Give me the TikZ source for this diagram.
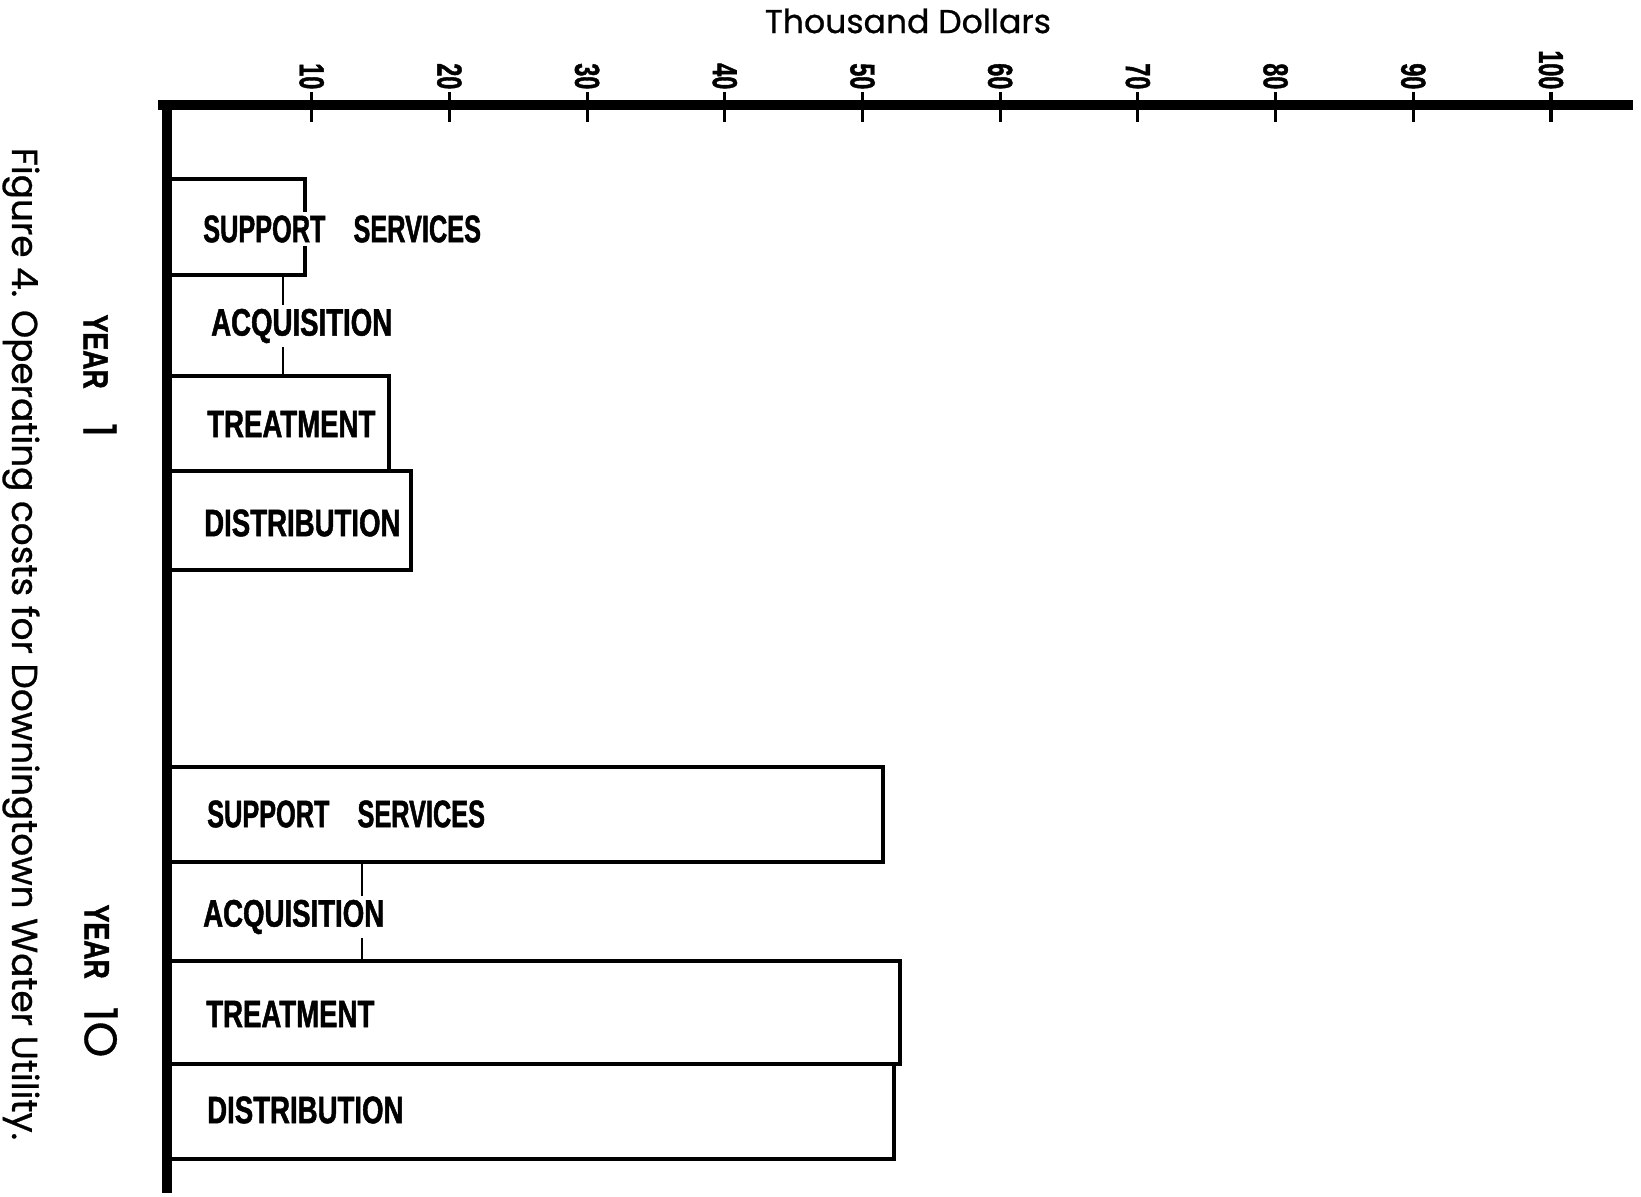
\documentclass[tikz,border=0pt]{standalone}
\usepackage{fontspec}
% condensed heavy faces for the bar labels, ticks and year labels
\newfontfamily\condfont[FakeStretch=0.72,FakeBold=1.2]{Liberation Sans}
\newfontfamily\ssfont[FakeStretch=0.66,FakeBold=1.2]{Liberation Sans}
\newfontfamily\tickfont[FakeStretch=0.67,FakeBold=1.2]{Liberation Sans}
\newfontfamily\yearfont[FakeStretch=0.76,FakeBold=1.2]{Liberation Sans}
\newfontfamily\geofont[FakeBold=0.8]{Poppins}
\begin{document}
\begin{tikzpicture}[x=0.01cm,y=-0.01cm,
  axisline/.style={line width=3.1pt,line cap=rect},
  barline/.style={line width=1.4pt},
  thinbar/.style={line width=0.6pt},
  tickline/.style={line width=0.9pt},
  barlabel/.style={font=\condfont\bfseries\fontsize{10.9}{13}\selectfont,
    fill=white,inner sep=1pt,anchor=west},
  sslabel/.style={font=\ssfont\bfseries\fontsize{10.9}{13}\selectfont,
    fill=white,inner sep=1pt,anchor=west},
  ticklabel/.style={font=\tickfont\bfseries\fontsize{9.9}{12}\selectfont,
    rotate=-90,anchor=east,inner sep=0pt},
  yearlabel/.style={rotate=-90,inner sep=0pt},
]
\useasboundingbox (0,0) rectangle (1641,1197);

% axes
\draw[line width=2.8pt] (167,105) -- (167,1193);
\draw[axisline] (163,105) -- (1628,105);

% ticks and their values
\foreach \v/\name in {10/t10,20/t20,30/t30,40/t40,50/t50,60/t60,70/t70,80/t80,90/t90,100/t100}{
  \pgfmathsetmacro{\tx}{174+13.77*\v}
  \draw[tickline] (\tx,92) -- (\tx,122);
  \node[ticklabel] (\name) at (\tx,90) {\v};
}
\node[font=\geofont\fontsize{9.4}{11}\selectfont] (unit) at (908,21) {Thousand Dollars};

% year 1 bars
\draw[barline] (167,179) rectangle (305,275);
\draw[thinbar] (283,275) -- (283,376);
\draw[barline] (167,376) rectangle (389,471);
\draw[barline] (167,471) rectangle (411,570);

% year 10 bars
\draw[barline] (167,767) rectangle (883,862);
\draw[thinbar] (362,862) -- (362,961);
\draw[barline] (167,961) rectangle (900,1064);
\draw[barline] (167,1064) rectangle (894,1159);

% bar labels
\node[sslabel]  (ss1)  at (199,229) {SUPPORT\hspace{0.28cm}SERVICES};
\node[barlabel] (acq1) at (207,326) {ACQUISITION};
\node[barlabel] (tr1)  at (203,424) {TREATMENT};
\node[barlabel] (di1)  at (200,523) {DISTRIBUTION};

\node[sslabel]  (ss10)  at (203,814) {SUPPORT\hspace{0.28cm}SERVICES};
\node[barlabel] (acq10) at (199,917) {ACQUISITION};
\node[barlabel] (tr10)  at (202,1014) {TREATMENT};
\node[barlabel] (di10)  at (203,1110) {DISTRIBUTION};

% year labels
\node[yearlabel] (y1) at (100,376)
  {{\yearfont\bfseries\fontsize{10}{12}\selectfont YEAR}\hspace{0.34cm}{\geofont\fontsize{13}{15}\selectfont 1}};
\node[yearlabel] (y10) at (101,981)
  {{\yearfont\bfseries\fontsize{10}{12}\selectfont YEAR}\hspace{0.28cm}{\geofont\fontsize{13}{15}\selectfont 1O}};

% caption
\node[rotate=-90,font=\geofont\fontsize{10.2}{12}\selectfont] (cap) at (21,644)
  {Figure 4. Operating costs for Downingtown Water Utility.};
\end{tikzpicture}
\end{document}
